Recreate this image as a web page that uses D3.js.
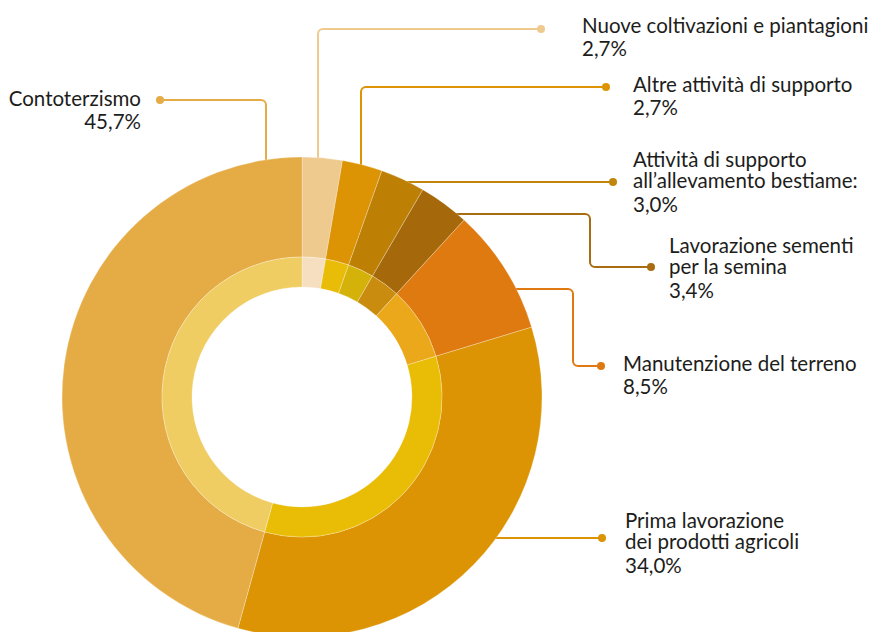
<!DOCTYPE html>
<html>
<head>
<meta charset="utf-8">
<script src="https://cdn.jsdelivr.net/npm/d3@7"></script>
<style>
  body { margin: 0; background: #fff; }
  text { font-family: Lato, "Open Sans", sans-serif; fill: #1d1d1b; }
</style>
</head>
<body>
<svg id="chart"></svg>
<script>
// data
const categories = [
  ['Nuove coltivazioni e piantagioni'],
  ['Altre attività di supporto'],
  ['Attività di supporto', 'all’allevamento bestiame:'],
  ['Lavorazione sementi', 'per la semina'],
  ['Manutenzione del terreno'],
  ['Prima lavorazione', 'dei prodotti agricoli'],
  ['Contoterzismo']
];
const values = [2.7, 2.7, 3.0, 3.4, 8.5, 34.0, 45.7];

const outerColors = ['#efca8f', '#dc9404', '#be8004', '#a5690b', '#df7a10', '#dc9404', '#e5ac45'];
const innerColors = ['#f6dfc0', '#e9bd07', '#d4b20a', '#c98c0f', '#eaa81a', '#e9bc06', '#efcd62'];
const lineColors = ['#efca8f', '#dc9404', '#c0850a', '#a86d10', '#df7911', '#dc9404', '#e5ac45'];

// label layout: leader leaves the ring vertically ('v') or horizontally ('h')
const labelLayout = [
  { attach: 'v', route: [[318, 29], [541, 29]], tx: 582, ty: 33, anchor: 'start' },
  { attach: 'v', route: [[361, 87], [606, 87]], tx: 633, ty: 92, anchor: 'start' },
  { attach: 'h', route: [[613, 182]], tx: 633, ty: 167, anchor: 'start' },
  { attach: 'h', route: [[590, 214], [590, 267], [651, 267]], tx: 669, ty: 253, anchor: 'start' },
  { attach: 'h', route: [[573, 289], [573, 366], [601, 366]], tx: 623, ty: 371, anchor: 'start' },
  { attach: 'h', route: [[602, 538]], tx: 625, ty: 528, anchor: 'start' },
  { attach: 'v', route: [[266, 100], [160, 100]], tx: 141, ty: 106, anchor: 'end' }
];

const width = 875, height = 632;
const cx = 302, cy = 397;
const rOuter = 240, rMid = 140, rInner = 110;

const svg = d3.select('#chart').attr('width', width).attr('height', height);

const pie = d3.pie().sort(null).value(d => d)(values);
const fmt = v => d3.format('.1f')(v).replace('.', ',') + '%';

// leader lines (behind the rings)
const leaders = svg.append('g').attr('class', 'leaders');
labelLayout.forEach((l, i) => {
  const first = l.route[0];
  let start;
  if (l.attach === 'v') {
    const dx = first[0] - cx;
    start = [first[0], cy - Math.sqrt(rOuter * rOuter - dx * dx) + 2];
  } else {
    const dy = first[1] - cy;
    start = [cx + Math.sqrt(rOuter * rOuter - dy * dy) - 2, first[1]];
  }
  const pts = [start, ...l.route];
  const p = d3.path();
  p.moveTo(pts[0][0], pts[0][1]);
  for (let k = 1; k < pts.length - 1; k++) {
    p.arcTo(pts[k][0], pts[k][1], pts[k + 1][0], pts[k + 1][1], 5);
  }
  const last = pts[pts.length - 1];
  p.lineTo(last[0], last[1]);
  leaders.append('path')
    .attr('d', p.toString())
    .attr('fill', 'none')
    .attr('stroke', lineColors[i])
    .attr('stroke-width', 2);
  leaders.append('circle')
    .attr('cx', last[0]).attr('cy', last[1]).attr('r', 4)
    .attr('fill', lineColors[i]);
});

// rings
const g = svg.append('g').attr('transform', `translate(${cx},${cy})`);
const arcOuter = d3.arc().innerRadius(rMid).outerRadius(rOuter);
const arcInner = d3.arc().innerRadius(rInner).outerRadius(rMid);

g.selectAll('path.outer').data(pie).join('path')
  .attr('class', 'outer')
  .attr('d', arcOuter)
  .attr('fill', (d, i) => outerColors[i])
  .attr('stroke', 'rgba(255,255,255,0.45)')
  .attr('stroke-width', 0.6);

g.selectAll('path.inner').data(pie).join('path')
  .attr('class', 'inner')
  .attr('d', arcInner)
  .attr('fill', (d, i) => innerColors[i])
  .attr('stroke', 'rgba(255,255,255,0.45)')
  .attr('stroke-width', 0.6);

// labels
const labels = svg.append('g').attr('class', 'labels');
labelLayout.forEach((l, i) => {
  const t = labels.append('text')
    .attr('x', l.tx).attr('y', l.ty)
    .attr('text-anchor', l.anchor)
    .style('font-size', '20.5px');
  const lines = categories[i];
  lines.forEach((s, k) => {
    t.append('tspan').attr('x', l.tx).attr('dy', k === 0 ? 0 : 21).text(s);
  });
  t.append('tspan').attr('x', l.tx).attr('dy', lines.length > 1 ? 24 : 23).text(fmt(values[i]));
});
</script>
</body>
</html>
